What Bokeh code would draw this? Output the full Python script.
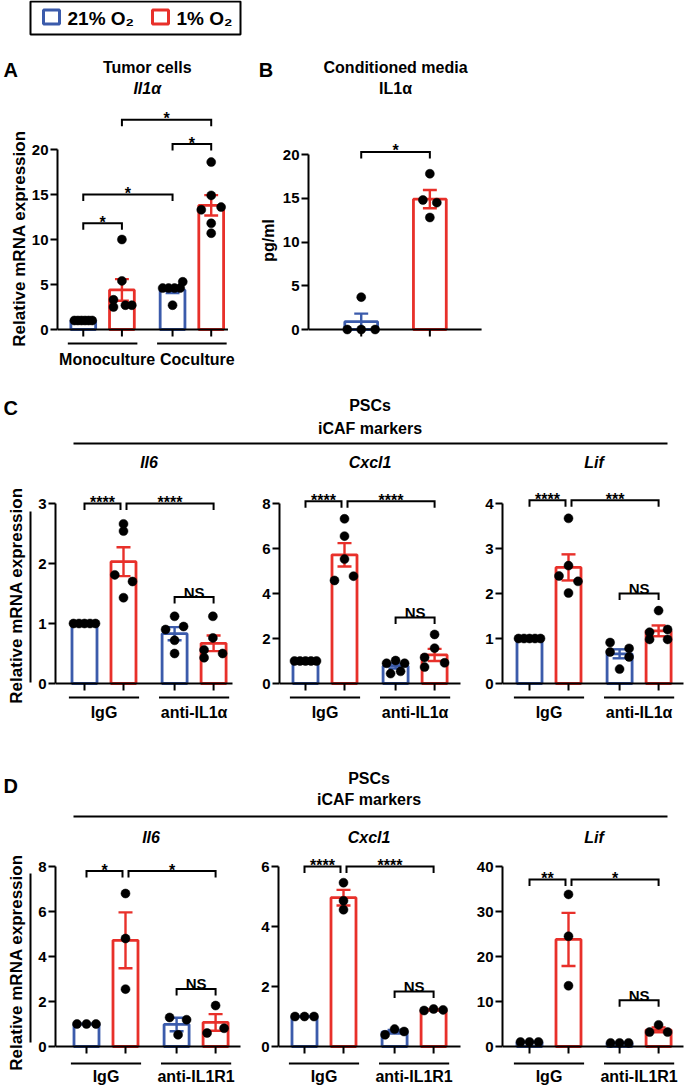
import math
from bokeh.plotting import figure
from bokeh.layouts import column, row
from bokeh.models import Range1d, FixedTicker, Label
from bokeh.core.properties import value
from bokeh.embed import file_html
from bokeh.resources import INLINE

# ------------------------------------------------------------------ data
legend_labels = ["21% O\u2082", "1% O\u2082"]

A_title = ["Tumor cells", "Il1\u03b1"]
A_groups = ["Monoculture", "Coculture"]
A_mean = [1.0, 4.4, 4.4, 13.8]
A_sem = [0.0, 1.2, 0.36, 1.13]
A_points = [[1.0, 1.0, 1.0, 1.0, 1.0, 1.0],
            [10.0, 5.4, 3.3, 2.5, 2.7, 2.7],
            [4.6, 4.6, 4.6, 4.6, 5.3, 2.7],
            [18.6, 14.9, 13.3, 13.6, 11.8, 10.7]]
A_yticks = [0, 5, 10, 15, 20]
A_sig = [(0, 1, "*"), (0, 2, "*"), (2, 3, "*"), (1, 3, "*")]

B_title = ["Conditioned media", "IL1\u03b1"]
B_mean = [0.9, 14.9]
B_sem = [0.92, 1.05]
B_points = [[0.0, 0.0, 0.0, 3.7], [17.8, 14.8, 14.5, 12.8]]
B_yticks = [0, 5, 10, 15, 20]
B_sig = [(0, 1, "*")]
B_ylabel = "pg/ml"

ylabel = "Relative mRNA expression"
header_text = ["PSCs", "iCAF markers"]
genes = ["Il6", "Cxcl1", "Lif"]
letters = ["A", "B", "C", "D"]

C_groups = ["IgG", "anti-IL1\u03b1"]
C_mean = [[1.0, 2.03, 0.83, 0.67], [1.0, 5.72, 0.78, 1.27], [1.0, 2.58, 0.66, 1.17]]
C_sem = [[0.0, 0.24, 0.11, 0.13], [0.0, 0.52, 0.11, 0.27], [0.0, 0.29, 0.10, 0.12]]
C_points = [
    [[1.0] * 5, [2.66, 2.54, 1.81, 1.70, 1.43], [1.12, 0.90, 0.95, 0.72, 0.50], [1.12, 0.76, 0.56, 0.50, 0.43]],
    [[1.0] * 5, [7.32, 6.55, 5.53, 4.58, 4.77], [0.90, 1.02, 0.90, 0.44, 0.54], [2.18, 1.57, 1.16, 0.92, 0.73]],
    [[1.0] * 5, [3.67, 2.62, 2.39, 2.27, 2.01], [0.91, 0.78, 0.70, 0.59, 0.32], [1.62, 1.20, 1.14, 0.98, 0.98]],
]
C_yticks = [[0, 1, 2, 3], [0, 2, 4, 6, 8], [0, 1, 2, 3, 4]]
C_sig = [[(0, 1, "****"), (1, 3, "****"), (2, 3, "NS")],
         [(0, 1, "****"), (1, 3, "****"), (2, 3, "NS")],
         [(0, 1, "****"), (1, 3, "***"), (2, 3, "NS")]]

D_groups = ["IgG", "anti-IL1R1"]
D_mean = [[1.0, 4.72, 0.98, 1.07], [1.0, 4.96, 0.49, 1.22], [1.0, 23.8, 0.8, 3.7]]
D_sem = [[0.0, 1.24, 0.30, 0.37], [0.0, 0.26, 0.06, 0.02], [0.0, 5.9, 0.05, 0.54]]
D_points = [
    [[1.0, 1.0, 1.0], [6.8, 4.8, 2.55], [1.29, 1.19, 0.52], [1.82, 0.60, 0.81]],
    [[1.0, 1.0, 1.0], [5.46, 4.86, 4.56], [0.39, 0.58, 0.50], [1.20, 1.25, 1.22]],
    [[1.0, 1.0, 1.0], [33.8, 24.5, 13.5], [0.8, 0.8, 0.8], [3.2, 4.8, 3.2]],
]
D_yticks = [[0, 2, 4, 6, 8], [0, 2, 4, 6], [0, 10, 20, 30, 40]]
D_sig = [[(0, 1, "*"), (1, 3, "*"), (2, 3, "NS")],
         [(0, 1, "****"), (1, 3, "****"), (2, 3, "NS")],
         [(0, 1, "**"), (1, 3, "*"), (2, 3, "NS")]]

# ------------------------------------------------------------------ style / layout (page pixels)
BLUE = "#3B5BAB"
RED = "#E8302A"
FONT = "Liberation Sans"
BAR_COLORS = [BLUE, RED, BLUE, RED]
POS4 = [1, 2, 3.31, 4.31]

LAY_A = dict(box=(28, 40, 251, 332), axis_x=55, y0=329, ytop=149, c1=81, unit=39, pos=POS4, bar_w=25,
             xend=227, group_drop=14, label_drop=30, label_nudge=[4.5, 5.5],
             title_y=[67, 88], title_italic=[False, True],
             levels=[11.8, 15.0, 20.6, 23.3], shrink=[(0, 0)] * 4,
             offs=[[-9, -5.4, -1.8, 1.8, 5.4, 9], [0, 0, -8.5, -8.5, 3.5, 10],
                   [-10, -4, 2, 7.7, 10.3, 0], [0, 0, -10, 10, 0, 0]],
             extra_letter=(letters[1], 258, 69), extra_ylab=(B_ylabel, 268, 240))
LAY_B = dict(box=(279, 40, 405, 332), axis_x=306, y0=329, ytop=154, c1=359, unit=69, pos=[1, 2], bar_w=33,
             xend=480, title_y=[67, 88], title_italic=[False, False], levels=[20.3], shrink=[(0, 0)],
             offs=[[-14, 0, 14, 0], [0, -7, 7, 0]])

SHR = [(0, -3), (3, 0), (0, 0)]
LAY_C = [
    dict(box=(33, 450, 207, 275), axis_x=55, c1=84, xend=232, levels=[3.0, 3.0, 1.44],
         offs=[[-11, -5.5, 0, 5.5, 11], [0, 0, -8.7, 9, 0], [0, -9, 9, 0, 0], [-0.7, -0.7, -9.5, 9, -9.5]]),
    dict(box=(240, 450, 222, 275), axis_x=279, c1=305, xend=460, levels=[8.1, 8.1, 2.93],
         offs=[[-11, -5.5, 0, 5.5, 11], [0, 0, 0, -10, 9], [-9, 0, 9, -5, 5], [0, 0, -10, 10, -10]]),
    dict(box=(462, 450, 222, 275), axis_x=502, c1=529, xend=683, levels=[4.07, 4.07, 2.0],
         offs=[[-11, -5.5, 0, 5.5, 11], [0, 0, -9.5, 9.5, 0], [-9.5, 9.5, -9.5, 9.5, 0], [0, 9, -9, -9, 9]]),
]
for L in LAY_C:
    L.update(y0=683, ytop=503, unit=39, pos=POS4, bar_w=25, group_drop=14, label_drop=29,
             title_y=[462], title_italic=[True], shrink=SHR)

LAY_D = [
    dict(box=(33, 825, 215, 265), axis_x=55, c1=86, xend=240, levels=[7.8, 7.8, 2.56],
         offs=[[-9.5, 0, 9.5], [0, 0, 0], [-7, 10, 1.5], [0, -8.5, 8.5]]),
    dict(box=(248, 825, 217, 265), axis_x=278, c1=304, xend=460, levels=[6.0, 6.0, 1.83],
         offs=[[-9.5, 0, 9.5], [0, 0, 0], [-9.5, 0, 9.5], [-9.5, 0, 9.5]]),
    dict(box=(465, 825, 219, 265), axis_x=502, c1=529, xend=683, levels=[37.1, 37.1, 10.3],
         offs=[[-9, 0, 9], [0, 0, 0], [-9, 0, 9], [-9, 0, 9]]),
]
for L in LAY_D:
    L.update(y0=1046, ytop=866, unit=39, pos=POS4, bar_w=25, group_drop=17, label_drop=30,
             title_y=[837], title_italic=[True], shrink=SHR)


def lab(p, x, y, text, size="16px", style="bold", align="center", baseline="middle", angle=0.0):
    p.add_layout(Label(x=x, y=y, text=text, text_font=FONT, text_font_size=size,
                       text_font_style=style, text_align=align, text_baseline=baseline,
                       angle=angle, text_color="black"))


def chart(L, mean, sem, pts, yticks, sig, titles, groups=None):
    fx, fy, fw, fh = L["box"]
    ax, y0, yt = L["axis_x"], L["y0"], L["ytop"]
    ymax = yticks[-1]
    k = (y0 - yt) / ymax
    c1, u = L["c1"], L["unit"]

    def X(px):
        return 1 + (px - c1) / u

    def Y(py):
        return (y0 - py) / k

    p = figure(width=fw, height=fh, x_range=Range1d(X(ax), X(fx + fw)),
               y_range=Range1d(Y(fy + fh), Y(fy)), min_border_left=ax - fx,
               min_border_right=0, min_border_top=0, min_border_bottom=0,
               x_axis_location=None, y_axis_location="left",
               toolbar_location=None, output_backend="svg")
    p.outline_line_color = None
    p.grid.visible = False
    yax = p.yaxis[0]
    yax.bounds = (0, ymax)
    yax.ticker = FixedTicker(ticks=yticks)
    yax.axis_line_width = 2
    yax.major_tick_line_width = 2
    yax.major_tick_out = 7
    yax.major_tick_in = 0
    yax.minor_tick_out = 0
    yax.minor_tick_in = 0
    yax.major_label_standoff = 2
    yax.major_label_text_font = FONT
    yax.major_label_text_font_size = "15px"
    yax.major_label_text_font_style = "bold"
    yax.major_label_text_color = "black"

    pos = L["pos"]
    n = len(mean)
    colors = BAR_COLORS[:n]
    p.vbar(x=pos, top=mean, bottom=0, width=L["bar_w"] / u, fill_color="white",
           line_color=colors, line_width=2.8)

    # error bars (SEM)
    cap = 7 / u
    x0s, y0s, x1s, y1s, cs = [], [], [], [], []
    for i in range(n):
        if sem[i] <= 0:
            continue
        lo, hi = mean[i] - sem[i], mean[i] + sem[i]
        x0s += [pos[i], pos[i] - cap, pos[i] - cap]
        x1s += [pos[i], pos[i] + cap, pos[i] + cap]
        y0s += [lo, lo, hi]
        y1s += [hi, lo, hi]
        cs += [colors[i]] * 3
    if x0s:
        p.segment(x0=x0s, y0=y0s, x1=x1s, y1=y1s, line_color=cs, line_width=2.4)

    # x axis line and ticks
    p.segment(x0=[X(ax)], y0=[0], x1=[X(L["xend"])], y1=[0], line_color="black", line_width=2)
    p.segment(x0=pos, y0=[0] * n, x1=pos, y1=[-7 / k] * n, line_color="black", line_width=2)

    # dots
    dx, dy = [], []
    for i in range(n):
        for v, o in zip(pts[i], L["offs"][i]):
            dx.append(pos[i] + o / u)
            dy.append(v)
    p.scatter(x=dx, y=dy, size=9, fill_color="black", line_color="black", line_width=0.5)

    # significance brackets
    leg = 6.5 / k
    bxs, bys = [], []
    for (i, j, t), lvl, (sl, sr) in zip(sig, L["levels"], L["shrink"]):
        xa = pos[i] + sl / u
        xb = pos[j] + sr / u
        bxs.append([xa, xa, xb, xb])
        bys.append([lvl - leg, lvl, lvl, lvl - leg])
        if t == "NS":
            lab(p, (xa + xb) / 2, lvl + 5 / k, t, size="15px", baseline="alphabetic")
        else:
            lab(p, (xa + xb) / 2, lvl + 1 / k, t, size="16px", baseline="alphabetic")
    p.multi_line(xs=bxs, ys=bys, line_color="black", line_width=2, line_join="miter")

    # titles
    cx = (pos[0] + pos[-1]) / 2
    for t, ty, it in zip(titles, L["title_y"], L["title_italic"]):
        lab(p, cx, Y(ty), t, size="16px", style="bold italic" if it else "bold")

    # group lines and labels
    if groups is not None:
        gy = Y(y0 + L["group_drop"])
        gx0 = [pos[2 * g] - 0.4 for g in range(len(groups))]
        gx1 = [pos[2 * g + 1] + 0.4 for g in range(len(groups))]
        p.segment(x0=gx0, y0=[gy] * len(groups), x1=gx1, y1=[gy] * len(groups),
                  line_color="black", line_width=2)
        nudge = L.get("label_nudge", [0] * len(groups))
        for g, name in enumerate(groups):
            lab(p, (gx0[g] + gx1[g]) / 2 + nudge[g] / u, Y(y0 + L["label_drop"]), name, size="16px")

    if "extra_letter" in L:
        t, lx, ly = L["extra_letter"]
        lab(p, X(lx), Y(ly), t, size="20px", align="left")
    if "extra_ylab" in L:
        t, lx, ly = L["extra_ylab"]
        lab(p, X(lx), Y(ly), t, size="16px", angle=math.pi / 2)
    return p


def deco(box):
    fx, fy, fw, fh = box
    p = figure(width=fw, height=fh, x_range=Range1d(fx, fx + fw), y_range=Range1d(fy + fh, fy),
               min_border=0, x_axis_location=None, y_axis_location=None,
               toolbar_location=None, output_backend="svg")
    p.outline_line_color = None
    p.grid.visible = False
    return p


def txt(p, x, y, t, size="16px", style="bold", align="center", angle=0.0):
    p.text(x=[x], y=[y], text=[t], text_font=value(FONT), text_font_size=size, angle=angle,
           text_font_style=style, text_align=align, text_baseline="middle", text_color="black")


def strip(box, ylab_xy, letter=None, vline=None):
    p = deco(box)
    txt(p, ylab_xy[0], ylab_xy[1], ylabel, size="17px", angle=math.pi / 2)
    if letter is not None:
        txt(p, letter[1], letter[2], letter[0], size="20px", align="left")
    if vline is not None:
        p.segment(x0=[vline[0]], y0=[vline[1]], x1=[vline[0]], y1=[vline[2]],
                  line_color="black", line_width=2)
    return p


# legend
pl = deco((0, 0, 684, 40))
pl.rect(x=[135], y=[17.5], width=210, height=33, fill_color="white", line_color="black", line_width=2)
pl.rect(x=[51, 160], y=[16.5, 16.5], width=[16, 16], height=[14, 14], fill_color="white",
        line_color=[BLUE, RED], line_width=3)
txt(pl, 67, 17.5, legend_labels[0], size="19px", align="left")
txt(pl, 176, 17.5, legend_labels[1], size="19px", align="left")

sA = strip((0, 40, 28, 332), (19, 238), letter=(letters[0], 3, 69))
pA = chart(LAY_A, A_mean, A_sem, A_points, A_yticks, A_sig, A_title, A_groups)
pB = chart(LAY_B, B_mean, B_sem, B_points, B_yticks, B_sig, B_title)


def make_header(box, letter, ly, cx, y1, y2, liney):
    p = deco(box)
    txt(p, 3, ly, letter, size="20px", align="left")
    txt(p, cx, y1, header_text[0])
    txt(p, cx, y2, header_text[1])
    p.segment(x0=[73], y0=[liney], x1=[667], y1=[liney], line_color="black", line_width=2)
    return p


def center_px(L):
    return L["c1"] + ((L["pos"][0] + L["pos"][-1]) / 2 - 1) * L["unit"]


hC = make_header((0, 372, 684, 78), letters[2], 407, center_px(LAY_C[1]), 405, 428, 443)
sC = strip((0, 450, 33, 275), (16, 595), vline=(30, 511, 682))
pC = [chart(LAY_C[i], C_mean[i], C_sem[i], C_points[i], C_yticks[i], C_sig[i], [genes[i]], C_groups)
      for i in range(3)]
hD = make_header((0, 725, 684, 100), letters[3], 785, center_px(LAY_D[1]), 778, 799, 816)
sD = strip((0, 825, 33, 265), (16, 962), vline=(30, 873, 1042))
pD = [chart(LAY_D[i], D_mean[i], D_sem[i], D_points[i], D_yticks[i], D_sig[i], [genes[i]], D_groups)
      for i in range(3)]

layout = column(pl, row(sA, pA, pB), hC, row(sC, *pC), hD, row(sD, *pD))
open("out.html", "w").write(file_html(layout, INLINE))
